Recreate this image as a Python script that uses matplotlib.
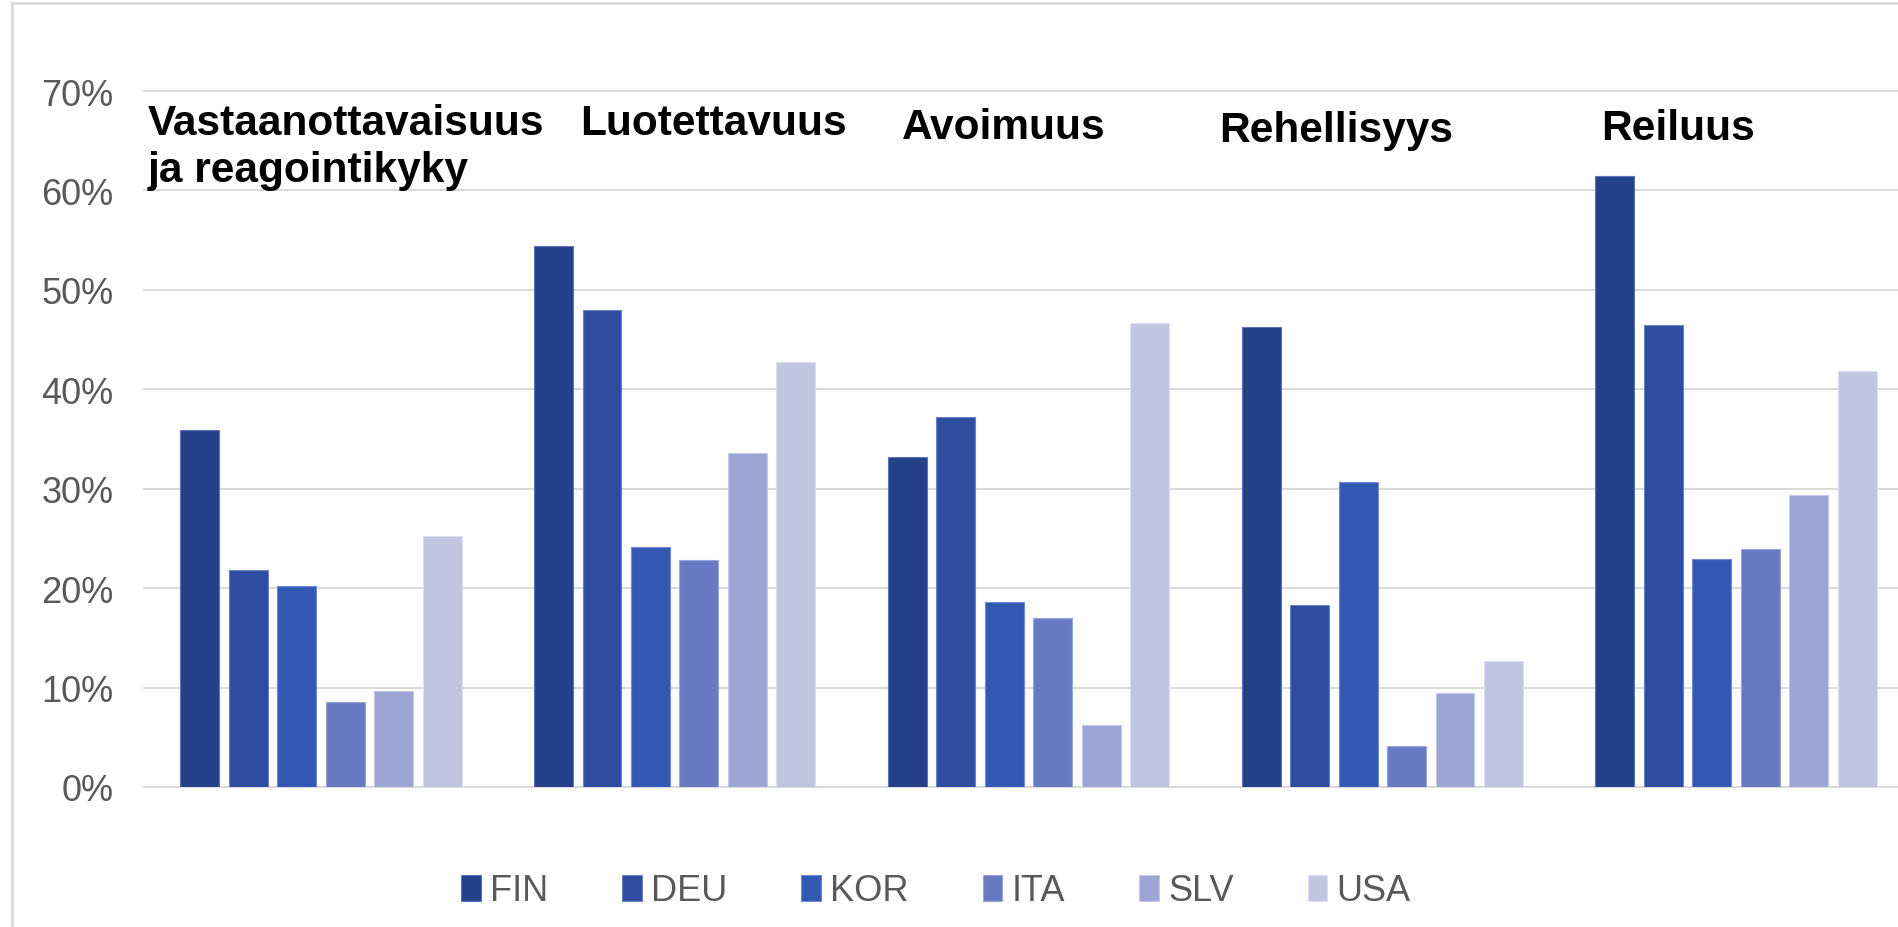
import matplotlib.pyplot as plt
import numpy as np
from matplotlib.lines import Line2D

# data (percent)
categories = ["Vastaanottavaisuus\nja reagointikyky", "Luotettavuus", "Avoimuus",
              "Rehellisyys", "Reiluus"]
countries = ["FIN", "DEU", "KOR", "ITA", "SLV", "USA"]
fin = [35.9, 54.4, 33.2, 46.3, 61.5]
deu = [21.8, 48.0, 37.2, 18.3, 46.5]
kor = [20.2, 24.1, 18.6, 30.7, 22.9]
ita = [8.5, 22.8, 17.0, 4.1, 23.9]
slv = [9.7, 33.6, 6.2, 9.5, 29.4]
usa = [25.2, 42.7, 46.7, 12.7, 41.8]
series = [fin, deu, kor, ita, slv, usa]

colors = ["#25418a", "#2e4da0", "#3358b4", "#6879c4", "#9da5d5", "#c0c5e2"]
edge_colors = ["#5f74b8", "#6c82c6", "#7189d2", "#98a6dc", "#c3c9e8", "#dde0f0"]

narrow = ["Liberation Sans Narrow", "Liberation Sans", "DejaVu Sans"]
bold = ["Liberation Sans", "DejaVu Sans"]

fig = plt.figure(figsize=(18.98, 9.28), dpi=100)
ax = fig.add_axes([144 / 1898, 1 - 788 / 928, 1769 / 1898, 696 / 928])

x = np.arange(len(categories))
pitch = 0.137
width = 0.11
for i, vals in enumerate(series):
    ax.bar(x + (i - 2.5) * pitch, vals, width, color=colors[i],
           edgecolor=edge_colors[i], linewidth=0.8, label=countries[i], zorder=3)

ax.set_xlim(-0.5, len(categories) - 0.5)
ax.set_ylim(0, 70)
ax.set_yticks(range(0, 71, 10))
ax.set_yticklabels([f"{v}%" for v in range(0, 71, 10)], family=narrow,
                   fontsize=26, color="#595959")
ax.set_xticks([])
ax.tick_params(axis="y", length=0, pad=22)
ax.grid(axis="y", color="#d9d9d9", linewidth=1.4, zorder=0)
for s in ax.spines.values():
    s.set_visible(False)
for line in ax.get_ygridlines():
    line.set_clip_on(False)

# category titles sit inside the plot, above each group
title_dx = [-0.489, -0.266, -0.359, -0.461, -0.382]
title_y = [68.8, 68.8, 68.4, 68.1, 68.3]
for i, name in enumerate(categories):
    ax.text(x[i] + title_dx[i], title_y[i], name, ha="left", va="top",
            fontsize=30.5, fontweight="bold", family=bold, color="black",
            linespacing=1.22, zorder=4)

leg = fig.legend(loc="center", bbox_to_anchor=(0.493, 1 - 892 / 928), ncol=6,
                 frameon=False, handlelength=0.55, handleheight=0.75,
                 handletextpad=0.25, columnspacing=2.05,
                 prop={"family": narrow, "size": 26})
for t in leg.get_texts():
    t.set_color("#595959")

# light frame around the chart area (left and top edges visible)
fig.add_artist(Line2D([12 / 1898, 12 / 1898], [0, 1 - 4 / 928], color="#d9d9d9", lw=2))
fig.add_artist(Line2D([12 / 1898, 1], [1 - 4 / 928, 1 - 4 / 928], color="#d9d9d9", lw=2))

fig.savefig("out.png", dpi=100)
